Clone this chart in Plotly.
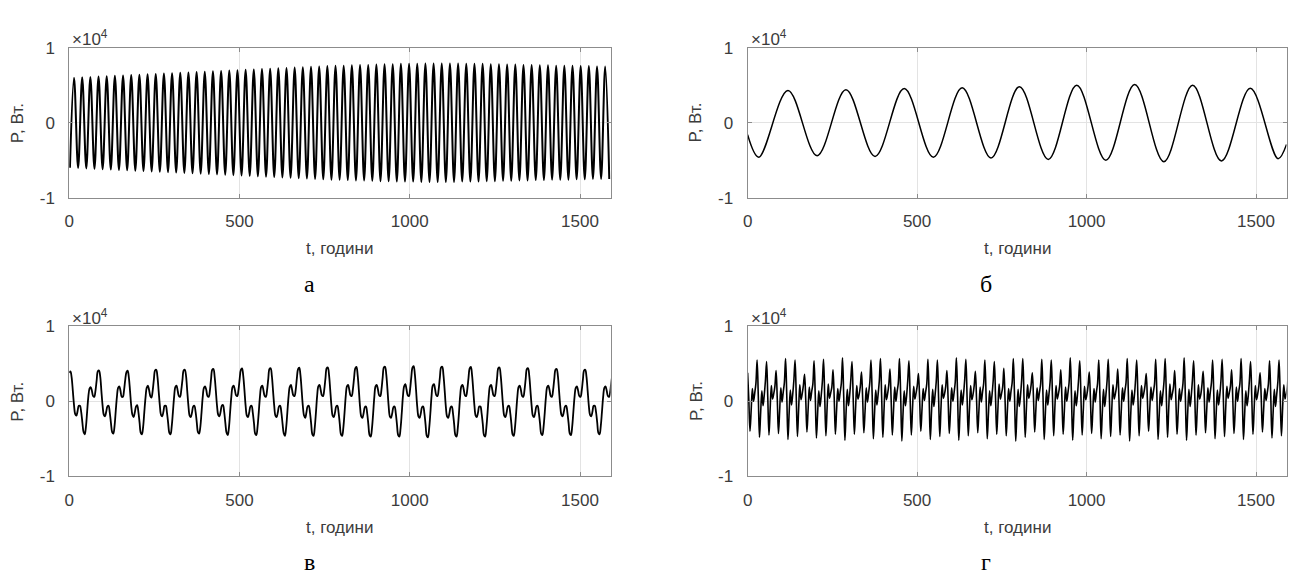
import plotly.graph_objects as go

W, H = 1292, 584

# ---------------- data ----------------
x_range = [0, 1590]
x_ticks = [0, 500, 1000, 1500]
y_ticks = [-10000, 0, 10000]
y_tick_text = ["-1", "0", "1"]

# panel а: daily oscillation, peak / trough values (W), one per day
a_first_peak = 14    # h
a_first_trough = 2   # h
a_period = 24        # h
a_peaks = [6000, 6050, 6100, 6150, 6200, 6250, 6300, 6350, 6400, 6450,
           6500, 6550, 6600, 6650, 6700, 6750, 6800, 6850, 6900, 6950,
           7000, 7050, 7100, 7150, 7200, 7250, 7300, 7350, 7400, 7450,
           7500, 7550, 7600, 7600, 7650, 7700, 7700, 7750, 7800, 7800,
           7850, 7850, 7850, 7900, 7900, 7900, 7900, 7900, 7850, 7850,
           7850, 7800, 7800, 7750, 7750, 7700, 7700, 7650, 7650, 7600,
           7600, 7600, 7550, 7550, 7500, 7500]
a_troughs = [-6000, -6050, -6100, -6150, -6200, -6250, -6300, -6350, -6400, -6450,
             -6500, -6550, -6600, -6650, -6700, -6750, -6800, -6850, -6900, -6950,
             -7000, -7050, -7100, -7150, -7200, -7250, -7300, -7350, -7400, -7450,
             -7500, -7550, -7600, -7600, -7650, -7700, -7700, -7750, -7800, -7800,
             -7850, -7850, -7850, -7900, -7900, -7900, -7900, -7900, -7850, -7850,
             -7850, -7800, -7800, -7750, -7750, -7700, -7700, -7650, -7650, -7600,
             -7600, -7600, -7550, -7550, -7500, -7500, -7500]

# panel б: weekly wave, extrema times (h) and values (W)
b_times = [0, 33, 119, 205, 290, 376, 462, 548, 633, 718, 802,
           887, 971, 1057, 1142, 1228, 1313, 1398, 1483, 1565, 1590]
b_values = [-1600, -4600, 4300, -4400, 4400, -4500, 4550, -4600, 4650, -4700, 4800,
            -4900, 5000, -5000, 5100, -5200, 5000, -5100, 4600, -4800, -2900]

# panel в: samples every 3.5 h, hundreds of W, one row per ~84 h cycle
v_step = 3.5
v_cycles = [
    [38, 40, 32, 14, -5, -17, -19, -13, -6, -6, -14, -28, -41, -44, -34, -14, 6, 17, 19, 14, 7, 6, 14, 28],
    [40, 41, 33, 13, -6, -18, -20, -14, -7, -6, -15, -29, -41, -43, -33, -13, 6, 18, 20, 14, 6, 6, 15, 29],
    [39, 41, 32, 14, -6, -18, -21, -15, -7, -5, -14, -28, -42, -44, -34, -14, 5, 18, 21, 15, 7, 5, 14, 29],
    [41, 42, 33, 14, -5, -18, -20, -14, -6, -6, -15, -29, -42, -44, -33, -14, 6, 19, 21, 14, 7, 6, 15, 29],
    [41, 42, 34, 14, -6, -19, -21, -15, -7, -6, -14, -28, -41, -43, -34, -15, 6, 18, 20, 15, 7, 6, 14, 30],
    [42, 43, 33, 14, -6, -18, -20, -14, -6, -5, -14, -29, -42, -45, -35, -14, 6, 19, 21, 15, 8, 7, 15, 30],
    [42, 44, 34, 15, -6, -19, -21, -15, -7, -6, -15, -29, -43, -45, -34, -15, 6, 19, 21, 14, 7, 6, 15, 30],
    [43, 44, 34, 14, -6, -19, -21, -15, -7, -6, -15, -30, -43, -46, -35, -15, 6, 19, 22, 15, 8, 7, 15, 31],
    [43, 45, 35, 15, -6, -19, -22, -15, -7, -6, -15, -30, -44, -46, -35, -15, 7, 20, 22, 15, 8, 7, 16, 31],
    [44, 45, 35, 15, -6, -19, -21, -15, -7, -6, -15, -30, -44, -46, -35, -15, 7, 20, 22, 15, 8, 7, 16, 31],
    [44, 46, 35, 15, -7, -20, -22, -16, -8, -7, -16, -31, -45, -47, -36, -16, 6, 20, 22, 16, 8, 7, 16, 32],
    [45, 46, 36, 16, -6, -20, -22, -16, -8, -7, -16, -31, -45, -47, -36, -16, 7, 20, 23, 16, 8, 7, 16, 32],
    [45, 47, 36, 15, -7, -20, -22, -16, -8, -7, -16, -31, -46, -48, -36, -16, 7, 21, 23, 16, 8, 7, 16, 32],
    [45, 46, 35, 15, -7, -20, -22, -16, -8, -7, -16, -31, -45, -47, -36, -16, 7, 20, 22, 16, 8, 7, 16, 31],
    [44, 46, 35, 15, -6, -19, -21, -15, -7, -7, -16, -30, -45, -47, -35, -15, 7, 20, 22, 15, 8, 7, 16, 31],
    [44, 45, 35, 15, -6, -19, -21, -15, -7, -6, -15, -30, -44, -46, -35, -15, 6, 19, 21, 15, 7, 6, 15, 30],
    [43, 44, 34, 14, -6, -19, -21, -15, -7, -6, -15, -29, -43, -45, -34, -15, 6, 19, 21, 15, 7, 6, 15, 30],
    [42, 43, 34, 14, -6, -18, -20, -14, -7, -6, -15, -29, -43, -45, -34, -14, 6, 18, 20, 14, 7, 6, 14, 29],
    [41, 42, 33, 14, -6, -18, -20, -14, -6, -6, -14, -28, -42, -44, -33, -14, 6, 18, 20, 14, 7, 6, 14, 28],
    [36, 41],
]

# panel г: samples every 3.5 h, hundreds of W, one row per ~84 h cycle
g_step = 3.5
g_cycles = [
    [38, 2, -40, -12, 17, 0, 11, 24, 55, 7, -48, -15, 14, -6, 8, 27, 53, 5, -45, -10, 21, 3, 10, 20],
    [41, 3, -43, -13, 18, -1, 12, 25, 57, 8, -51, -16, 15, -5, 9, 28, 55, 6, -47, -11, 22, 2, 10, 21],
    [36, 2, -41, -11, 19, 1, 13, 23, 54, 9, -49, -17, 14, -7, 7, 26, 56, 5, -46, -9, 23, 4, 11, 19],
    [42, 4, -44, -12, 17, 0, 12, 24, 58, 7, -52, -15, 16, -6, 8, 29, 53, 4, -44, -10, 21, 3, 9, 20],
    [39, 3, -42, -13, 18, -1, 11, 25, 55, 8, -50, -16, 15, -5, 9, 27, 57, 6, -48, -11, 22, 2, 10, 22],
    [43, 2, -45, -12, 19, 0, 13, 24, 57, 9, -53, -17, 14, -6, 7, 28, 54, 5, -45, -10, 20, 3, 11, 21],
    [37, 3, -40, -11, 17, 1, 12, 23, 56, 7, -51, -15, 16, -7, 8, 26, 55, 4, -47, -9, 22, 4, 10, 20],
    [41, 4, -43, -13, 18, 0, 11, 25, 58, 8, -52, -16, 15, -5, 9, 29, 56, 6, -46, -11, 21, 2, 9, 21],
    [40, 2, -42, -12, 19, -1, 12, 24, 55, 9, -50, -17, 14, -6, 8, 27, 53, 5, -44, -10, 23, 3, 10, 19],
    [44, 3, -46, -12, 17, 0, 13, 25, 57, 7, -53, -15, 16, -7, 7, 28, 57, 4, -48, -10, 22, 4, 11, 22],
    [38, 4, -41, -11, 18, 1, 12, 23, 56, 8, -51, -16, 15, -5, 9, 26, 55, 6, -46, -9, 21, 3, 10, 20],
    [42, 2, -44, -13, 19, 0, 11, 25, 58, 9, -52, -17, 14, -6, 8, 29, 54, 5, -45, -11, 20, 2, 9, 21],
    [39, 3, -43, -12, 17, -1, 12, 24, 55, 7, -50, -15, 16, -7, 8, 27, 56, 4, -47, -10, 22, 3, 10, 20],
    [43, 4, -45, -12, 18, 0, 13, 25, 57, 8, -53, -16, 15, -5, 7, 28, 55, 6, -46, -10, 21, 4, 11, 21],
    [37, 2, -40, -11, 19, 1, 12, 23, 56, 9, -51, -17, 14, -6, 9, 26, 57, 5, -48, -9, 23, 2, 10, 19],
    [41, 3, -44, -13, 17, 0, 11, 24, 58, 7, -52, -15, 16, -7, 8, 29, 54, 4, -45, -11, 22, 3, 9, 22],
    [40, 4, -42, -12, 18, -1, 12, 25, 55, 8, -50, -16, 15, -5, 8, 27, 56, 6, -47, -10, 20, 4, 11, 20],
    [42, 2, -43, -12, 19, 0, 13, 24, 57, 9, -51, -17, 14, -6, 7, 28, 53, 5, -44, -10, 21, 2, 10, 21],
    [38, 3, -41, -11, 17, 1, 11, 23, 54, 7, -49, -15, 16, -7, 9, 26, 55, 4, -46, -9, 22, 3, 10, 20],
    [40, 3],
]

panel_letters = ["а", "б", "в", "г"]
x_title = "t, години"
y_title = "P, Вт."

# ---------------- build series ----------------
a_pts = [(a_first_peak + a_period * i, v) for i, v in enumerate(a_peaks)] + \
        [(a_first_trough + a_period * i, v) for i, v in enumerate(a_troughs)]
a_pts.sort()
a_t = [p[0] for p in a_pts]
a_v = [p[1] for p in a_pts]

v_vals = [v * 100 for row in v_cycles for v in row]
v_t = [i * v_step for i in range(len(v_vals))]
g_vals = [v * 100 for row in g_cycles for v in row]
g_t = [i * g_step for i in range(len(g_vals))]

series = [(a_t, a_v), (b_times, b_values), (v_t, v_vals), (g_t, g_vals)]
line_widths = [2.0, 1.5, 1.8, 1.6]

# ---------------- layout geometry (page pixels) ----------------
col_px = [(64.5, 608), (745.5, 1286.5)]
row_px = [(40, 195), (328, 483)]

def px_x(p):
    return min(max(p / W, 0.0), 1.0)

def px_y(p):
    return min(max(1 - p / H, 0.0), 1.0)

fig = go.Figure()
layout = dict(
    width=W, height=H, margin=dict(l=0, r=0, t=0, b=0), autosize=False,
    paper_bgcolor="white", plot_bgcolor="white", showlegend=False,
    font=dict(family="Liberation Sans, Arial, sans-serif", size=16, color="#404040"),
)
annotations = []
axis_color = "#8c8c8c"
grid_color = "#e3e3e3"
txt_color = "#3c3c3c"
FS = 17

for i, (tx, ty) in enumerate(series):
    r, c = divmod(i, 2)
    sfx = "" if i == 0 else str(i + 1)
    x0, x1 = col_px[c]
    y0, y1 = row_px[r]
    fig.add_trace(go.Scatter(
        x=tx, y=ty, mode="lines", xaxis="x" + sfx, yaxis="y" + sfx,
        line=dict(color="black", width=line_widths[i], shape="spline", smoothing=1),
        hoverinfo="skip",
    ))
    layout["xaxis" + sfx] = dict(
        domain=[px_x(x0), px_x(x1)], anchor="y" + sfx, range=x_range,
        tickmode="array", tickvals=x_ticks, ticks="inside", ticklen=4,
        tickcolor=axis_color, showline=True, linecolor=axis_color, linewidth=1,
        mirror="ticks", showgrid=True, gridcolor=grid_color, zeroline=False,
        ticklabelstandoff=8, tickfont=dict(size=FS, color=txt_color),
    )
    layout["yaxis" + sfx] = dict(
        domain=[px_y(y1), px_y(y0)], anchor="x" + sfx, range=[-10000, 10000],
        tickmode="array", tickvals=y_ticks, ticktext=y_tick_text, ticks="inside",
        ticklen=4, tickcolor=axis_color, showline=True, linecolor=axis_color,
        linewidth=1, mirror="ticks", showgrid=True, gridcolor=grid_color,
        zeroline=False, ticklabelstandoff=10, tickfont=dict(size=FS, color=txt_color),
    )
    cx = (x0 + x1) / 2
    annotations.append(dict(x=px_x(cx), y=px_y(y1 + 53), xref="paper", yref="paper",
                            text=x_title, showarrow=False, xanchor="center", yanchor="middle",
                            font=dict(size=FS, color=txt_color)))
    annotations.append(dict(x=px_x(x0 - 52), y=px_y((y0 + y1) / 2), xref="paper", yref="paper",
                            text=y_title, showarrow=False, textangle=-90,
                            xanchor="center", yanchor="middle",
                            font=dict(size=FS, color=txt_color)))
    annotations.append(dict(x=px_x(x0 + 1), y=px_y(y0 - 10), xref="paper", yref="paper",
                            text="×10<sup>4</sup>", showarrow=False, xanchor="left",
                            yanchor="middle", font=dict(size=FS, color=txt_color)))
    annotations.append(dict(x=px_x(cx - 31), y=px_y(y1 + 89), xref="paper", yref="paper",
                            text=panel_letters[i], showarrow=False, xanchor="center",
                            yanchor="middle",
                            font=dict(family="Liberation Serif, Times New Roman, serif",
                                      size=24, color="black")))

layout["annotations"] = annotations
fig.update_layout(**layout)
fig.write_html(
    "out.html",
    config={"displayModeBar": False, "staticPlot": True},
    post_script=("document.documentElement.style.margin='0';"
                 "document.body.style.margin='0';"
                 "document.documentElement.style.overflow='hidden';"
                 "document.body.style.overflow='hidden';"),
)
